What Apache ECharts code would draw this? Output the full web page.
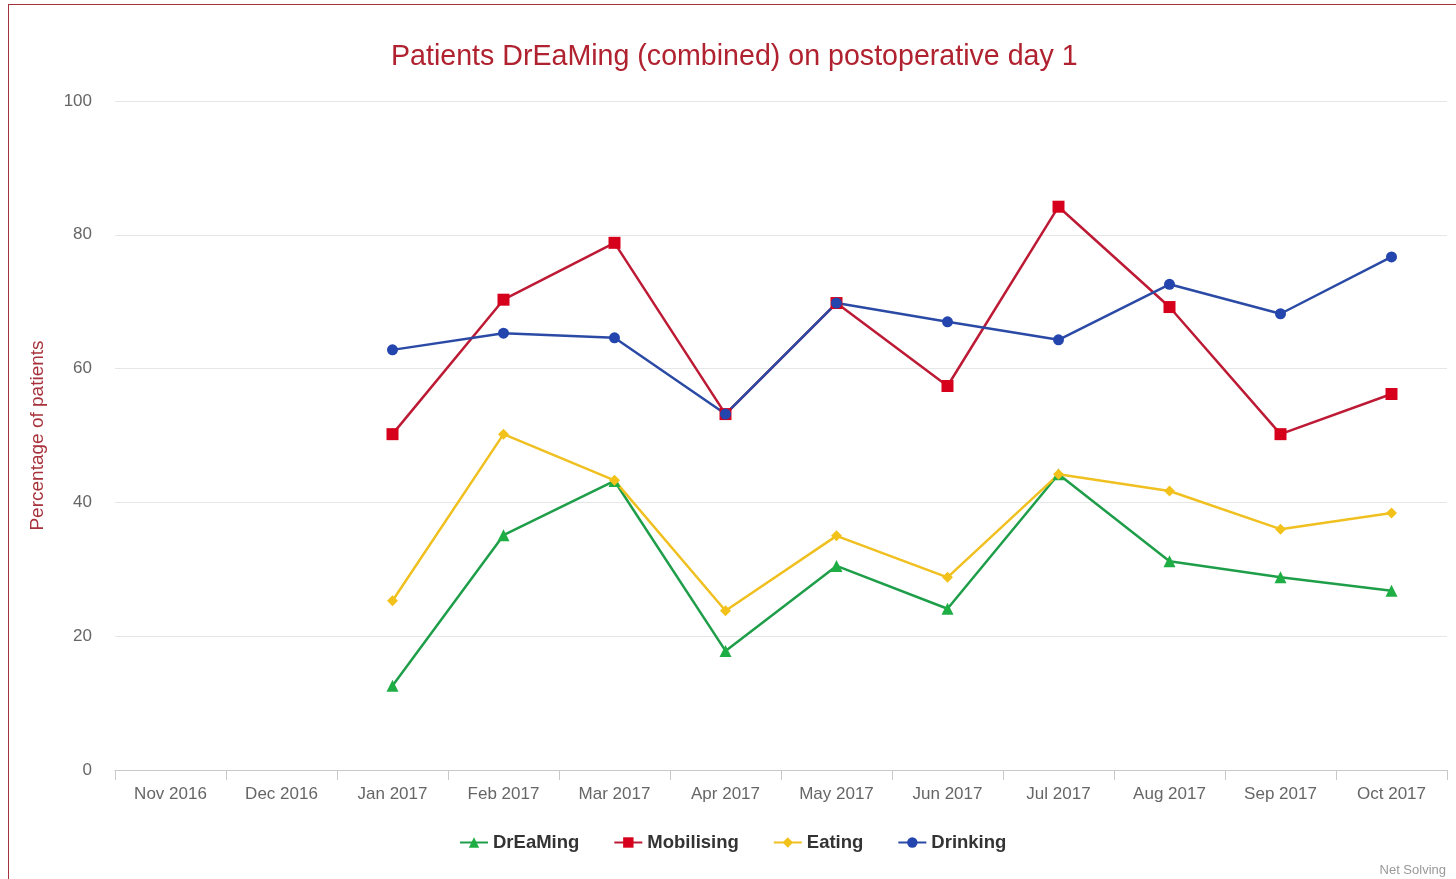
<!DOCTYPE html>
<html>
<head>
<meta charset="utf-8">
<script src="https://cdn.jsdelivr.net/npm/echarts@6/dist/echarts.min.js"></script>
<style>
html,body{margin:0;padding:0;background:#fff;}
#frame{position:absolute;left:8px;top:4px;width:1460px;height:890px;border:1.5px solid #a3343d;box-sizing:border-box;}
#chart{position:absolute;left:0;top:0;width:1456px;height:879px;}
</style>
</head>
<body>
<div id="frame"></div>
<div id="chart"></div>
<script>
const categories = ['Nov 2016','Dec 2016','Jan 2017','Feb 2017','Mar 2017','Apr 2017','May 2017','Jun 2017','Jul 2017','Aug 2017','Sep 2017','Oct 2017'];
const dreaming   = [null, null, 12.6, 35.1, 43.2, 17.8, 30.5, 24.1, 44.2, 31.2, 28.8, 26.8];
const mobilising = [null, null, 50.2, 70.3, 78.8, 53.2, 69.8, 57.4, 84.2, 69.2, 50.2, 56.2];
const eating     = [null, null, 25.3, 50.2, 43.3, 23.8, 35.0, 28.8, 44.2, 41.7, 36.0, 38.4];
const drinking   = [null, null, 62.8, 65.3, 64.6, 53.2, 69.8, 67.0, 64.3, 72.6, 68.2, 76.7];
const yTicks = [0, 20, 40, 60, 80, 100];

const font = '"Liberation Sans", Arial, sans-serif';
const chart = echarts.init(document.getElementById('chart'));

function mk(name, data, color, lineColor, symbol, size) {
  return {
    name, type: 'line', data, symbol, symbolSize: size,
    connectNulls: false,
    itemStyle: { color: color },
    lineStyle: { color: lineColor, width: 2.5 },
    emphasis: { disabled: true }
  };
}

chart.setOption({
  backgroundColor: 'transparent',
  animation: false,
  title: {
    text: 'Patients DrEaMing (combined) on postoperative day 1',
    left: 386, top: 38,
    textStyle: { color: '#b0222f', fontSize: 28.6, fontWeight: 'normal', fontFamily: font }
  },
  legend: {
    bottom: 22, left: 454, itemGap: 34, itemWidth: 28, itemHeight: 13,
    textStyle: { color: '#333', fontSize: 18.5, fontWeight: 'bold', fontFamily: font },
    data: ['DrEaMing','Mobilising','Eating','Drinking']
  },
  graphic: [{
    type: 'text', right: 10, bottom: 2,
    style: { text: 'Net Solving', fill: '#999', font: '13px ' + font }
  }],
  grid: { left: 115, right: 9, top: 101, bottom: 109 },
  xAxis: {
    type: 'category', data: categories, boundaryGap: true,
    axisLine: { lineStyle: { color: '#c8c8c8', width: 1 } },
    axisTick: { show: true, alignWithLabel: false, length: 10, lineStyle: { color: '#c8c8c8' } },
    axisLabel: { color: '#666', fontSize: 17, fontFamily: font, margin: 16, interval: 0 }
  },
  yAxis: {
    type: 'value', min: yTicks[0], max: yTicks[yTicks.length-1], interval: 20,
    name: 'Percentage of patients', nameLocation: 'middle', nameGap: 68,
    nameTextStyle: { color: '#a8323c', fontSize: 19, fontFamily: font },
    axisLine: { show: false }, axisTick: { show: false },
    axisLabel: { color: '#666', fontSize: 17, fontFamily: font, margin: 23 },
    splitLine: { lineStyle: { color: '#e6e6e6', width: 1 } }
  },
  series: [
    mk('DrEaMing', dreaming, '#1fae44', '#1f9e4a', 'triangle', 12),
    mk('Mobilising', mobilising, '#d6001c', '#bd1a35', 'rect', 12),
    mk('Eating', eating, '#f2c21b', '#f0c020', 'diamond', 11),
    mk('Drinking', drinking, '#2345ad', '#2a4aa5', 'circle', 11)
  ]
});
</script>
</body>
</html>
